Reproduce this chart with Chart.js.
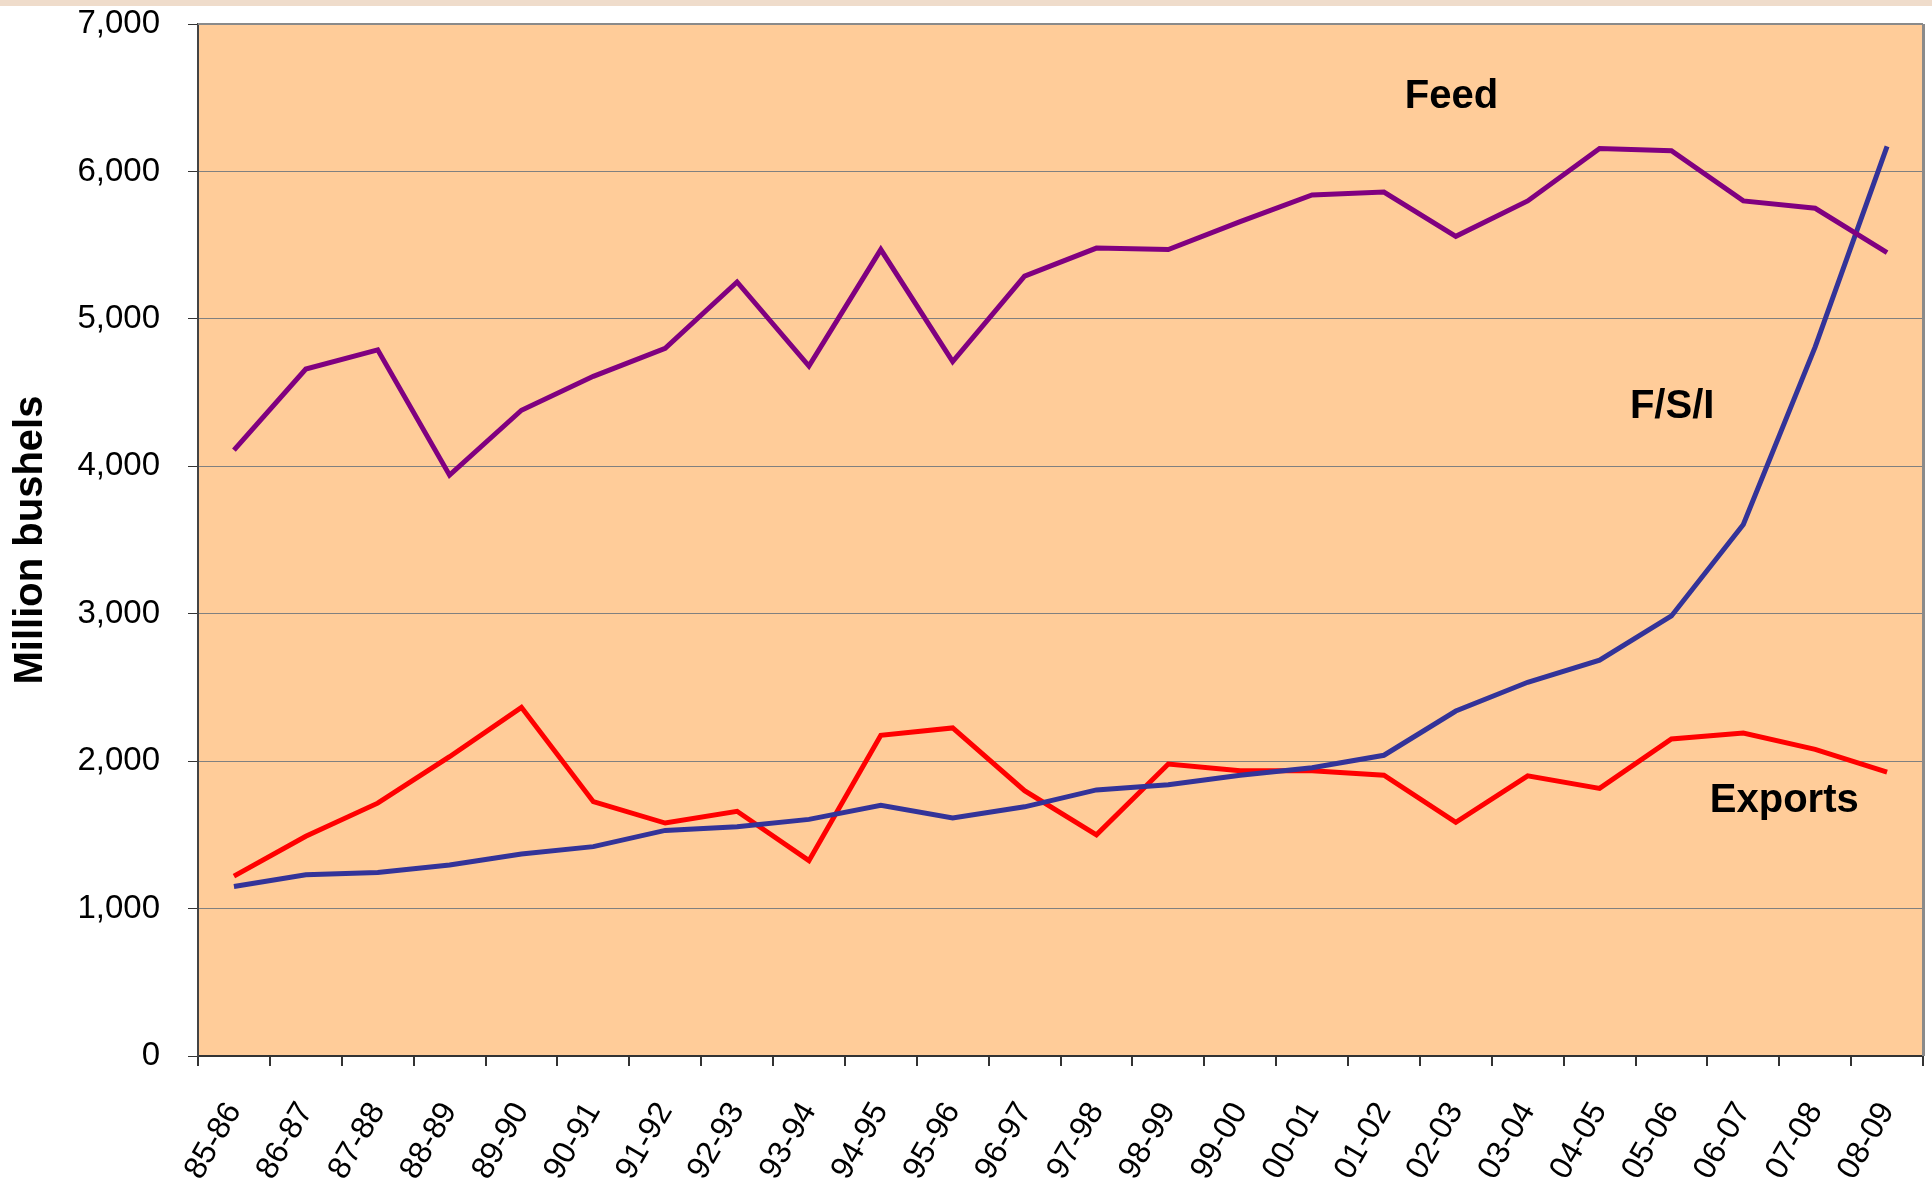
<!DOCTYPE html>
<html>
<head>
<meta charset="utf-8">
<script src="https://cdn.jsdelivr.net/npm/chart.js@4.4.1/dist/chart.umd.min.js"></script>
<style>
  html, body { margin: 0; padding: 0; background: #fff; }
  #wrap { position: relative; width: 1932px; height: 1193px; }
  #band { position: absolute; left: 0; top: 0; width: 1932px; height: 6px; background: #EFDCCB; }
  canvas { position: absolute; left: 0; top: 0; }
</style>
</head>
<body>
<div id="wrap">
  <canvas id="cornChart" width="1932" height="1193"></canvas>
  <div id="band"></div>
</div>
<script>
const seasons = ['85-86','86-87','87-88','88-89','89-90','90-91','91-92','92-93','93-94','94-95',
  '95-96','96-97','97-98','98-99','99-00','00-01','01-02','02-03','03-04','04-05',
  '05-06','06-07','07-08','08-09'];

// million bushels
const feed = [4110, 4660, 4790, 3940, 4380, 4610, 4800, 5250, 4680, 5470,
  4710, 5290, 5480, 5470, 5660, 5840, 5860, 5560, 5800, 6155,
  6140, 5800, 5750, 5450];
const fsi = [1150, 1230, 1245, 1295, 1370, 1420, 1530, 1555, 1605, 1700,
  1615, 1690, 1805, 1840, 1905, 1955, 2040, 2340, 2535, 2685,
  2985, 3605, 4810, 6170];
const exportsSeries = [1220, 1490, 1715, 2030, 2365, 1725, 1580, 1660, 1325, 2175,
  2225, 1800, 1500, 1980, 1935, 1935, 1905, 1585, 1900, 1815,
  2150, 2190, 2080, 1925];

const yTicks = [0, 1000, 2000, 3000, 4000, 5000, 6000, 7000];

// in-plot series names: category index / value where each text baseline sits
const seriesNames = [
  { text: 'Feed',    at: 16.94, val: 6430 },
  { text: 'F/S/I',   at: 20.01, val: 4325 },
  { text: 'Exports', at: 21.57, val: 1656 }
];

const FONT = '"Liberation Sans", Arial, sans-serif';

const plotBg = {
  id: 'plotBg',
  beforeDraw(chart) {
    const { ctx, chartArea: a } = chart;
    ctx.save();
    ctx.fillStyle = '#FFCC99';
    ctx.fillRect(a.left, a.top, a.right - a.left, a.bottom - a.top);
    ctx.restore();
  },
  afterDraw(chart) {
    const { ctx, chartArea: a, scales } = chart;
    ctx.save();
    // top + right frame
    ctx.strokeStyle = '#8a8a8a';
    ctx.lineWidth = 2;
    ctx.beginPath();
    ctx.moveTo(a.left, a.top);
    ctx.lineTo(a.right, a.top);
    ctx.stroke();
    ctx.lineWidth = 3;
    ctx.beginPath();
    ctx.moveTo(a.right + 0.5, a.top);
    ctx.lineTo(a.right + 0.5, a.bottom);
    ctx.stroke();
    // series names
    ctx.fillStyle = '#000';
    ctx.font = 'bold 40px ' + FONT;
    ctx.textAlign = 'center';
    ctx.textBaseline = 'alphabetic';
    seriesNames.forEach(n => {
      const x = scales.x.getPixelForDecimal((n.at + 0.5) / seasons.length);
      const y = scales.y.getPixelForValue(n.val);
      ctx.fillText(n.text, x, y);
    });
    ctx.restore();
  }
};

new Chart(document.getElementById('cornChart'), {
  type: 'line',
  data: {
    labels: seasons,
    datasets: [
      { label: 'Feed', data: feed, borderColor: '#800080' },
      { label: 'F/S/I', data: fsi, borderColor: '#333399' },
      { label: 'Exports', data: exportsSeries, borderColor: '#FF0000' }
    ].map(d => Object.assign(d, { borderWidth: 5, pointRadius: 0, tension: 0, fill: false }))
  },
  options: {
    responsive: false,
    animation: false,
    layout: { padding: { top: 24, right: 9, left: 0, bottom: 0 } },
    plugins: { legend: { display: false }, tooltip: { enabled: false } },
    scales: {
      x: {
        offset: true,
        grid: { display: true, offset: true, drawOnChartArea: false, drawTicks: true, tickLength: 10, tickColor: '#333', lineWidth: 2 },
        border: { color: '#333', width: 2 },
        ticks: {
          autoSkip: false, minRotation: 60, maxRotation: 60, padding: 30,
          color: '#000', font: { family: FONT, size: 32 }
        },
        afterFit(scale) {
          scale.height = 137;
          scale.paddingLeft = 0; scale.paddingRight = 0;
        }
      },
      y: {
        min: 0, max: 7000,
        afterBuildTicks(scale) { scale.ticks = yTicks.map(v => ({ value: v })); },
        grid: { color: '#808080', lineWidth: 1, tickLength: 10, tickColor: '#333' },
        border: { color: '#444', width: 2 },
        ticks: {
          padding: 28, color: '#000', font: { family: FONT, size: 33 },
          callback: v => v.toLocaleString('en-US')
        },
        title: {
          display: true, text: 'Million bushels', color: '#000',
          font: { family: FONT, size: 40, weight: 'bold' }, padding: { top: 7, bottom: 0 }
        },
        afterFit(scale) {
          scale.width = 198;
          scale.paddingTop = 0; scale.paddingBottom = 0;
        }
      }
    }
  },
  plugins: [plotBg]
});
</script>
</body>
</html>
